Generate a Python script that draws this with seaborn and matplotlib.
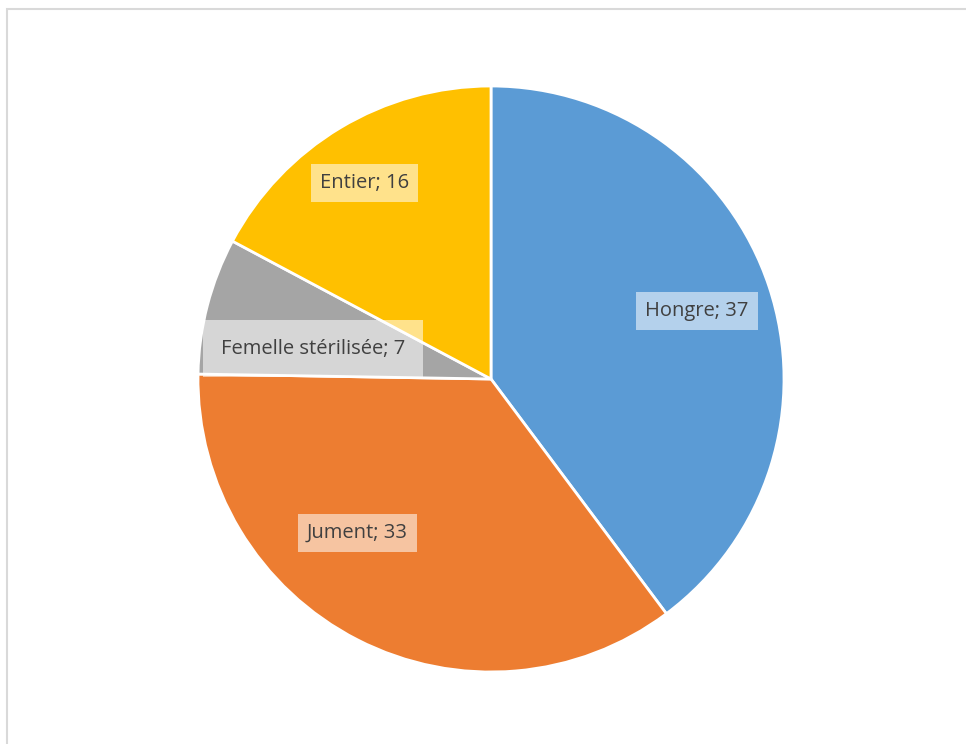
import matplotlib
matplotlib.use("Agg")
import matplotlib.pyplot as plt
import seaborn as sns
from matplotlib.patches import Rectangle

# data
categories = ["Hongre", "Jument", "Femelle stérilisée", "Entier"]
counts = [37, 33, 7, 16]
colors = ["#5B9BD5", "#ED7D31", "#A5A5A5", "#FFC000"]

# label placement (data coords inside the unit pie)
label_pos = [(0.703, 0.232), (-0.457, -0.526), (-0.608, 0.104), (-0.433, 0.669)]
label_pad = [0.45, 0.45, 0.9, 0.45]

sns.set_theme(style="white")
plt.rcParams["font.family"] = ["Open Sans", "DejaVu Sans"]

W, H = 966, 744
fig = plt.figure(figsize=(W / 100, H / 100), dpi=100)
fig.patch.set_facecolor("white")

# chart area border (light gray frame, cut at right/bottom)
fig.add_artist(Rectangle((7 / W, -0.01), 1.0, 1 - 9 / H + 0.01,
                         transform=fig.transFigure, fill=False,
                         edgecolor="#D9D9D9", linewidth=1.5))

cx, cy, r = 491, 379, 293
ax = fig.add_axes([(cx - r) / W, (H - cy - r) / H, 2 * r / W, 2 * r / H])

wedges, _ = ax.pie(counts, colors=colors, startangle=90, counterclock=False,
                   radius=1, wedgeprops=dict(edgecolor="white", linewidth=2))

for name, val, (x, y), pad in zip(categories, counts, label_pos, label_pad):
    ax.text(x, y, f"{name}; {val}", ha="center", va="center",
            fontsize=14.5, color="#404040",
            bbox=dict(boxstyle=f"square,pad={pad}", facecolor="white",
                      edgecolor="none", alpha=0.55))

ax.set_xlim(-1, 1)
ax.set_ylim(-1, 1)
ax.set_aspect("equal")
ax.axis("off")

fig.savefig("out.png", dpi=100)
